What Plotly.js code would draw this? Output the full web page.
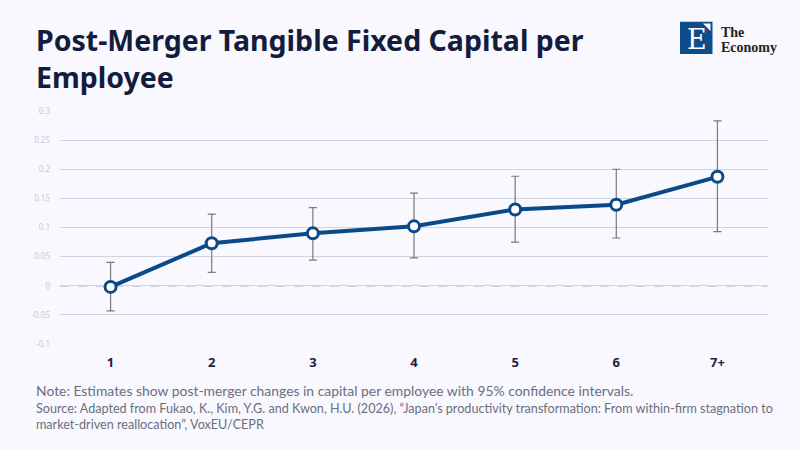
<!DOCTYPE html>
<html><head><meta charset="utf-8">
<script src="https://cdn.plot.ly/plotly-3.0.1.min.js"></script>
<style>html,body{margin:0;padding:0;background:#f8f8fe;}#chart{width:800px;height:450px;}</style>
</head><body><div id="chart"></div>
<script>
const categories = ["1","2","3","4","5","6","7+"];
const estimates  = [-0.002, 0.073, 0.090, 0.102, 0.131, 0.139, 0.187];
const upperCI    = [0.040, 0.123, 0.134, 0.159, 0.188, 0.200, 0.283];
const lowerCI    = [-0.043, 0.023, 0.044, 0.048, 0.075, 0.082, 0.093];
const yTicks     = [-0.1, -0.05, 0, 0.05, 0.1, 0.15, 0.2, 0.25, 0.3];
const yTickText  = ["-0.1","-0.05","0","0.05","0.1","0.15","0.2","0.25","0.3"];

const errPlus  = estimates.map((v,i)=>upperCI[i]-v);
const errMinus = estimates.map((v,i)=>v-lowerCI[i]);

const trace = {
  x: categories, y: estimates, type: 'scatter', mode: 'lines+markers',
  line: {color: '#0b4a88', width: 4},
  marker: {size: 11, color: '#ffffff', line: {color: '#0b4a88', width: 3}},
  error_y: {type: 'data', symmetric: false, array: errPlus, arrayminus: errMinus,
            color: '#7a7a7a', thickness: 1.2, width: 4},
  hoverinfo: 'none', showlegend: false
};

// pixel helpers for paper coords (plot area: x 60..768, y 111..344)
const PL = 60, PW = 708, PT = 111, PH = 233;
const px = x => (x - PL) / PW;
const py = y => (PT + PH - y) / PH;

const layout = {
  width: 800, height: 450,
  paper_bgcolor: '#f8f8fe', plot_bgcolor: '#f8f8fe',
  margin: {l: 60, r: 32, t: 111, b: 106},
  font: {family: '"Noto Sans", sans-serif'},
  xaxis: {type: 'category', range: [-0.5, 6.5], showgrid: false, zeroline: false, showline: false,
          ticks: '', tickfont: {size: 13, color: '#1a2340', weight: 700}, ticklabelstandoff: 9},
  yaxis: {range: [-0.1, 0.3], tickvals: yTicks, ticktext: yTickText,
          showgrid: true, gridcolor: '#cdd5e4', gridwidth: 1, zeroline: false,
          ticks: '', tickfont: {size: 8, color: '#c3cbdd'}, ticklabelstandoff: 9},
  shapes: [
    {type: 'line', xref: 'paper', yref: 'y', x0: 0, x1: 1, y0: 0, y1: 0,
     line: {color: '#f8f8fe', width: 2}, layer: 'between'},
    {type: 'line', xref: 'paper', yref: 'y', x0: 0, x1: 1, y0: 0, y1: 0,
     line: {color: '#666a82', width: 1.1, dash: 'dash'}, layer: 'between'},
    {type: 'rect', xref: 'paper', yref: 'paper', x0: px(680), x1: px(712.5), y0: py(54), y1: py(21.7),
     fillcolor: '#0f4c8a', line: {width: 0}},
    {type: 'path', xref: 'paper', yref: 'paper',
     path: `M ${px(703)} ${py(23.5)} L ${px(710.5)} ${py(23.5)} L ${px(710.5)} ${py(31)} Z`,
     fillcolor: '#ffffff', line: {width: 0}}
  ],
  annotations: [
    {xref: 'paper', yref: 'paper', x: px(34), y: py(19), xanchor: 'left', yanchor: 'top',
     showarrow: false, align: 'left',
     text: '<b>Post-Merger Tangible Fixed Capital per<br>Employee</b>',
     font: {family: '"Noto Sans", sans-serif', size: 28.5, color: '#131c3d'}},
    {xref: 'paper', yref: 'paper', x: px(696.5), y: py(39.5), showarrow: false,
     text: 'E', font: {family: '"DejaVu Serif", serif', size: 27, color: '#ffffff'},
     xanchor: 'center', yanchor: 'middle'},
    {xref: 'paper', yref: 'paper', x: px(719), y: py(33), showarrow: false,
     text: '<b>The</b>', font: {family: '"Liberation Serif", serif', size: 14, color: '#222'},
     xanchor: 'left', yanchor: 'bottom', yshift: -9},
    {xref: 'paper', yref: 'paper', x: px(719), y: py(46), showarrow: false,
     text: '<b>Economy</b>', font: {family: '"Liberation Serif", serif', size: 14, color: '#222'},
     xanchor: 'left', yanchor: 'top', yshift: 8},
    {xref: 'paper', yref: 'paper', x: px(34), y: py(380), xanchor: 'left', yanchor: 'top',
     showarrow: false, align: 'left',
     text: 'Note: Estimates show post-merger changes in capital per employee with 95% confidence intervals.',
     font: {family: 'Lato, sans-serif', size: 13.9, color: '#6a6f80'}},
    {xref: 'paper', yref: 'paper', x: px(34), y: py(398.5), xanchor: 'left', yanchor: 'top',
     showarrow: false, align: 'left',
     text: 'Source: Adapted from Fukao, K., Kim, Y.G. and Kwon, H.U. (2026), \u201cJapan\u2019s productivity transformation: From within-firm stagnation to<br>market-driven reallocation\u201d, VoxEU/CEPR',
     font: {family: 'Lato, sans-serif', size: 12.6, color: '#6a6f80'}}
  ]
};
Plotly.newPlot('chart', [trace], layout, {displayModeBar: false, staticPlot: true});
</script></body></html>
